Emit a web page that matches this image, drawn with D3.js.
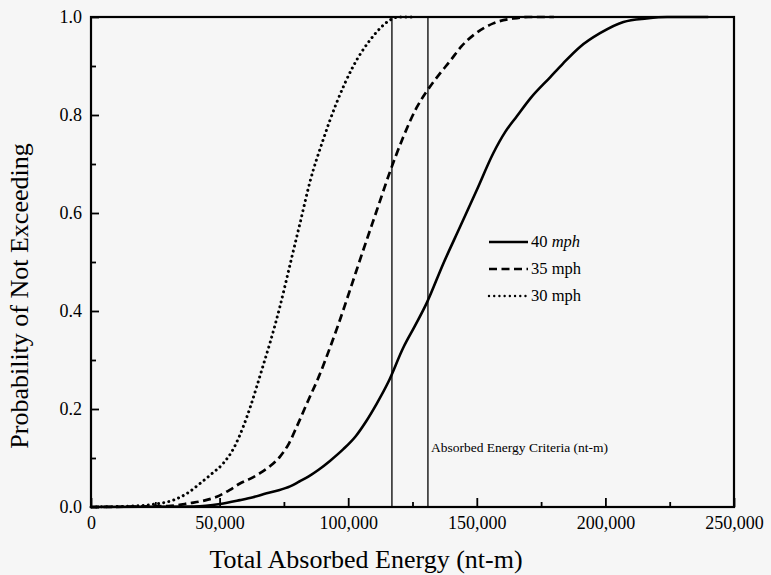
<!DOCTYPE html>
<html>
<head>
<meta charset="utf-8">
<script src="https://cdn.jsdelivr.net/npm/d3@7"></script>
<style>
    body { margin: 0; background: #f6f6f6; }
    svg text { font-family: "Liberation Serif", "DejaVu Serif", serif !important; fill: #000; }
</style>
</head>
<body>
<div class="display"></div>
<script>
// CDF curves
const energy30 = [0, 20000, 25000, 32000, 38000, 42400, 47000, 51400, 55500, 59200, 62000, 64400, 67000, 69600, 73500, 77400, 81300, 85200, 90300, 95500, 102000, 108500, 113000, 116300, 120000, 125000];
const prob30 = [0, 0.003, 0.006, 0.014, 0.03, 0.048, 0.068, 0.089, 0.12, 0.164, 0.205, 0.245, 0.29, 0.335, 0.41, 0.495, 0.58, 0.665, 0.75, 0.825, 0.9, 0.953, 0.98, 0.994, 1.0, 1.0];

const energy35 = [0, 30000, 38500, 44000, 48900, 54000, 57900, 62000, 65700, 69500, 73500, 77000, 80000, 84500, 88500, 92900, 96000, 100700, 105900, 111100, 116300, 121400, 126600, 130500, 135700, 139600, 144000, 148700, 156400, 164200, 170000, 180000];
const prob35 = [0, 0.002, 0.008, 0.013, 0.021, 0.035, 0.048, 0.058, 0.069, 0.083, 0.103, 0.13, 0.164, 0.218, 0.265, 0.325, 0.37, 0.443, 0.525, 0.605, 0.685, 0.755, 0.815, 0.848, 0.885, 0.91, 0.94, 0.963, 0.987, 0.997, 1.0, 1.0];

const energy40 = [0, 40000, 50200, 57900, 63000, 68300, 73000, 77400, 81000, 84500, 88500, 92900, 98100, 103000, 107000, 111000, 115600, 121400, 126000, 130500, 137000, 143500, 150000, 156400, 161000, 165500, 171000, 178500, 183500, 190100, 197900, 207000, 216000, 224000, 240000];
const prob40 = [0, 0.001, 0.006, 0.014, 0.02, 0.028, 0.034, 0.042, 0.052, 0.062, 0.076, 0.094, 0.118, 0.145, 0.175, 0.21, 0.255, 0.325, 0.37, 0.416, 0.497, 0.572, 0.647, 0.722, 0.765, 0.797, 0.835, 0.877, 0.905, 0.939, 0.967, 0.99, 0.997, 1.0, 1.0];

const criteria = [117000, 131000];
const xTicks = [0, 50000, 100000, 150000, 200000, 250000];
const xMinorTicks = [25000, 75000, 125000, 175000, 225000];
const yTicks = [0, 0.2, 0.4, 0.6, 0.8, 1.0];
const yMinorTicks = [0.1, 0.3, 0.5, 0.7, 0.9];

const width = 771;
const height = 575;
const plotLeft = 91, plotRight = 734, plotTop = 17, plotBottom = 507;

const series = [
    { name: '40', italic: true, x: energy40, y: prob40, dash: null, cap: 'butt', w: 2.6 },
    { name: '35', italic: false, x: energy35, y: prob35, dash: '8,4.5', cap: 'butt', w: 2.7 },
    { name: '30', italic: false, x: energy30, y: prob30, dash: '0.01,5.2', cap: 'round', w: 3 }
];

const svg = d3.select('.display')
    .append('svg')
    .attr('width', width)
    .attr('height', height)
    .attr('font-family', 'Liberation Serif')
    .style('background-color', '#f6f6f6');

const xScale = d3.scaleLinear().domain([0, 250000]).range([plotLeft, plotRight]);
const yScale = d3.scaleLinear().domain([0, 1]).range([plotBottom, plotTop]);

// criteria lines
svg.selectAll('.criteria')
    .data(criteria)
    .enter()
    .append('line')
    .attr('class', 'criteria')
    .attr('x1', d => xScale(d))
    .attr('x2', d => xScale(d))
    .attr('y1', yScale(0))
    .attr('y2', yScale(1))
    .attr('stroke', '#000')
    .attr('stroke-width', 1.3);

const line = d3.line()
    .x(d => xScale(d[0]))
    .y(d => yScale(d[1]))
    .curve(d3.curveMonotoneX);

series.forEach(s => {
    svg.append('path')
        .datum(s.x.map((v, i) => [v, s.y[i]]))
        .attr('d', line)
        .attr('fill', 'none')
        .attr('stroke', '#000')
        .attr('stroke-width', s.w)
        .attr('stroke-linecap', s.cap)
        .attr('stroke-dasharray', s.dash);
});

// axes, ticks pointing inward
svg.append('g')
    .attr('transform', `translate(0, ${plotBottom})`)
    .call(d3.axisBottom(xScale).tickValues(xTicks).tickFormat(d3.format(',')).tickSizeInner(-9).tickSizeOuter(0).tickPadding(9));

svg.append('g')
    .attr('transform', `translate(0, ${plotBottom})`)
    .call(d3.axisBottom(xScale).tickValues(xMinorTicks).tickFormat('').tickSizeInner(-5).tickSizeOuter(0));

svg.append('g')
    .attr('transform', `translate(${plotLeft}, 0)`)
    .call(d3.axisLeft(yScale).tickValues(yTicks).tickFormat(d3.format('.1f')).tickSizeInner(-8).tickSizeOuter(0).tickPadding(9));

svg.append('g')
    .attr('transform', `translate(${plotLeft}, 0)`)
    .call(d3.axisLeft(yScale).tickValues(yMinorTicks).tickFormat('').tickSizeInner(-5).tickSizeOuter(0));

svg.selectAll('.domain').remove();
svg.selectAll('g').attr('font-family', null);
svg.selectAll('.tick line').attr('stroke', '#000').attr('stroke-width', 1.8);
svg.selectAll('.tick text').style('font-size', '18px').attr('fill', '#000');

svg.append('rect')
    .attr('x', plotLeft)
    .attr('y', plotTop)
    .attr('width', plotRight - plotLeft)
    .attr('height', plotBottom - plotTop)
    .attr('fill', 'none')
    .attr('stroke', '#000')
    .attr('stroke-width', 2.2);

// titles
svg.append('text')
    .attr('x', 366)
    .attr('y', 568)
    .attr('text-anchor', 'middle')
    .style('font-size', '26px')
    .text('Total Absorbed Energy (nt-m)');

svg.append('text')
    .attr('transform', 'translate(28, 296) rotate(-90)')
    .attr('text-anchor', 'middle')
    .style('font-size', '26px')
    .text('Probability of Not Exceeding');

svg.append('text')
    .attr('x', 431)
    .attr('y', 452)
    .style('font-size', '13.5px')
    .text('Absorbed Energy Criteria (nt-m)');

// legend
const legend = svg.append('g').attr('id', 'legend');

series.forEach((s, i) => {
    const ly = 242 + i * 27;
    legend.append('line')
        .attr('x1', 489)
        .attr('x2', 528)
        .attr('y1', ly)
        .attr('y2', ly)
        .attr('stroke', '#000')
        .attr('stroke-width', 2.4)
        .attr('stroke-linecap', s.cap)
        .attr('stroke-dasharray', s.dash);
    const t = legend.append('text')
        .attr('x', 531)
        .attr('y', ly + 5)
        .style('font-size', '16.5px');
    t.append('tspan').text(`${s.name} `);
    t.append('tspan').style('font-style', s.italic ? 'italic' : 'normal').text('mph');
});
</script>
</body>
</html>
